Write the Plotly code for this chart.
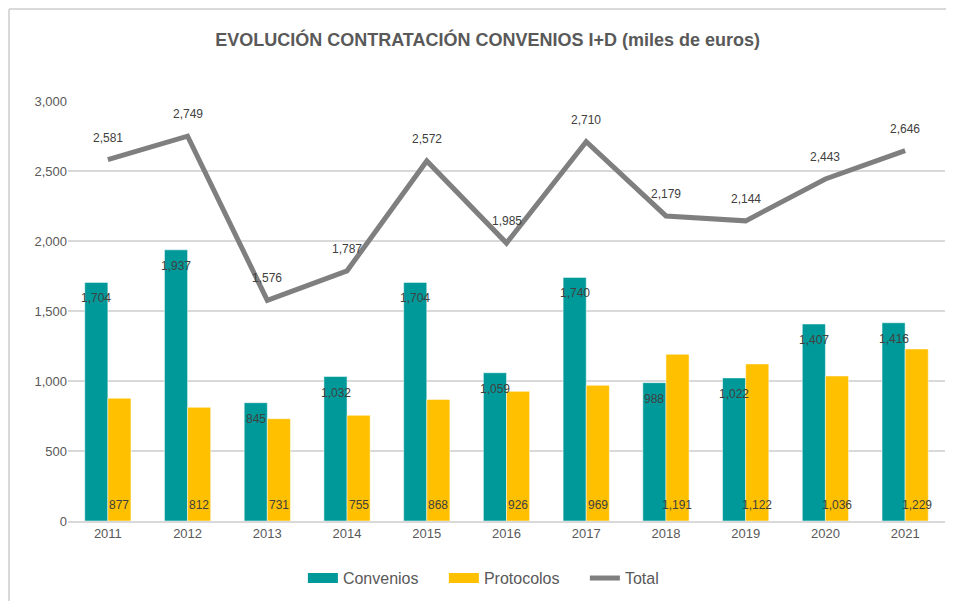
import plotly.graph_objects as go

years = ["2011", "2012", "2013", "2014", "2015", "2016", "2017", "2018", "2019", "2020", "2021"]
convenios = [1704, 1937, 845, 1032, 1704, 1059, 1740, 988, 1022, 1407, 1416]
protocolos = [877, 812, 731, 755, 868, 926, 969, 1191, 1122, 1036, 1229]
total = [2581, 2749, 1576, 1787, 2572, 1985, 2710, 2179, 2144, 2443, 2646]
y_ticks = [0, 500, 1000, 1500, 2000, 2500, 3000]

TEAL = "#009999"
GOLD = "#FFC000"
GREY = "#7F7F7F"
LABEL = "#404040"
FONT = "Liberation Sans, Arial, sans-serif"

fig = go.Figure()
fig.add_trace(go.Bar(
    name="Convenios", x=years, y=convenios, marker=dict(color=TEAL, line=dict(color="white", width=0.5)),
    showlegend=False,
))
fig.add_trace(go.Bar(
    name="Protocolos", x=years, y=protocolos, marker=dict(color=GOLD, line=dict(color="white", width=0.5)),
    showlegend=False,
))
fig.add_trace(go.Scatter(
    name="Total", x=years, y=total, mode="lines", line=dict(color=GREY, width=5), showlegend=False,
))

lab_font = dict(color=LABEL, size=12, family=FONT)
# data labels: annotations at category index (category axis) and value
for i, (c, p, t) in enumerate(zip(convenios, protocolos, total)):
    fig.add_annotation(x=i, y=t, text=f"{t:,}", showarrow=False, yshift=22, font=lab_font)
    fig.add_annotation(x=i, y=c, text=f"{c:,}", showarrow=False, xshift=-11.5, yshift=-16, font=lab_font)
    fig.add_annotation(x=i, y=0, text=f"{p:,}", showarrow=False, xshift=11.5, yshift=16, font=lab_font)

# legend entries (wide swatches like the original)
for name, col in [("Convenios", TEAL), ("Protocolos", GOLD), ("Total", GREY)]:
    fig.add_trace(go.Scatter(name=name, x=[None], y=[None], mode="lines",
                             line=dict(color=col, width=10 if name != "Total" else 5)))

# chart border (Excel chart area outline)
fig.add_shape(type="line", xref="paper", yref="paper", x0=-0.0673, x1=1.2, y0=1.219, y1=1.219,
              line=dict(color="#D9D9D9", width=2))
fig.add_shape(type="line", xref="paper", yref="paper", x0=-0.0673, x1=-0.0673, y0=-0.5, y1=1.219,
              line=dict(color="#D9D9D9", width=2))

fig.update_layout(
    width=946, height=593,
    margin=dict(l=60, r=9, t=93, b=80, autoexpand=False),
    paper_bgcolor="white", plot_bgcolor="white",
    barmode="group", bargap=0.42, bargroupgap=0,
    title=dict(text="<b>EVOLUCIÓN CONTRATACIÓN CONVENIOS I+D (miles de euros)</b>",
               x=0.507, xanchor="center", y=0.946, yanchor="middle", xref="container", yref="container",
               font=dict(size=18, color="#595959", family=FONT)),
    font=dict(family=FONT, color="#595959", size=12),
    legend=dict(orientation="h", x=0.509, xanchor="center", y=-0.136, yanchor="middle",
                font=dict(size=16, color="#595959"), traceorder="normal", entrywidth=96),
    showlegend=True,
)
fig.update_xaxes(type="category", showgrid=False, showline=True, linecolor="#D9D9D9", linewidth=1.5,
                 tickfont=dict(size=13, color="#595959"), ticks="")
fig.update_yaxes(range=[0, 3000], tickvals=y_ticks, tickformat=",", showgrid=True,
                 gridcolor="#D9D9D9", gridwidth=1.5, zeroline=False, showline=False,
                 tickfont=dict(size=13, color="#595959"))

fig.write_html("out.html")
